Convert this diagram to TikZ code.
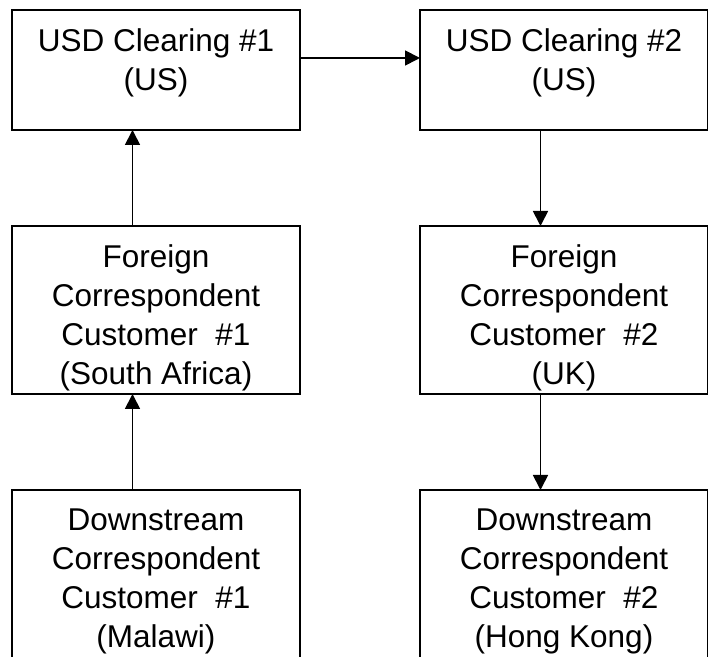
\documentclass[tikz,border=0pt]{standalone}
\usepackage{fontspec}
\setmainfont{Liberation Sans}
\usetikzlibrary{arrows.meta}
\newcommand{\blktext}[2]{\parbox[t][#1][t]{144pt}{\centering\vspace*{9.5pt}#2}}
\tikzset{
  blk/.style={draw, line width=1pt, inner sep=0pt, outer sep=0pt, anchor=north west,
    font=\fontsize{15.75pt}{19.5pt}\selectfont},
  flow/.style={-{Triangle[length=7.5pt,width=7.5pt]}, line width=0.9pt}
}
\begin{document}
\begin{tikzpicture}[x=0.5pt,y=-0.5pt]
	\useasboundingbox (0,0) rectangle (708,657);
	% clearing banks
	\node[blk] (clr1) at (12,10) {\blktext{60pt}{USD Clearing \#1\\(US)}};
	\node[blk] (clr2) at (420,10) {\blktext{60pt}{USD Clearing \#2\\(US)}};
	% foreign correspondents
	\node[blk] (fc1) at (12,226) {\blktext{84pt}{Foreign\\Correspondent\\Customer\ \ \#1\\(South Africa)}};
	\node[blk] (fc2) at (420,226) {\blktext{84pt}{Foreign\\Correspondent\\Customer\ \ \#2\\(UK)}};
	% downstream correspondents (run off the page)
	\node[blk] (dc1) at (12,490) {\blktext{92pt}{Downstream\\Correspondent\\Customer\ \ \#1\\(Malawi)}};
	\node[blk] (dc2) at (420,490) {\blktext{92pt}{Downstream\\Correspondent\\Customer\ \ \#2\\(Hong Kong)}};
	% flows
	\draw[flow] ([xshift=-11.75pt]dc1.north) -- ([xshift=-11.75pt]fc1.south);
	\draw[flow] ([xshift=-11.75pt]fc1.north) -- ([xshift=-11.75pt]clr1.south);
	\draw[flow] ([yshift=6pt]clr1.east) -- ([yshift=6pt]clr2.west);
	\draw[flow] ([xshift=-11.75pt]clr2.south) -- ([xshift=-11.75pt]fc2.north);
	\draw[flow] ([xshift=-11.75pt]fc2.south) -- ([xshift=-11.75pt]dc2.north);
\end{tikzpicture}
\end{document}
